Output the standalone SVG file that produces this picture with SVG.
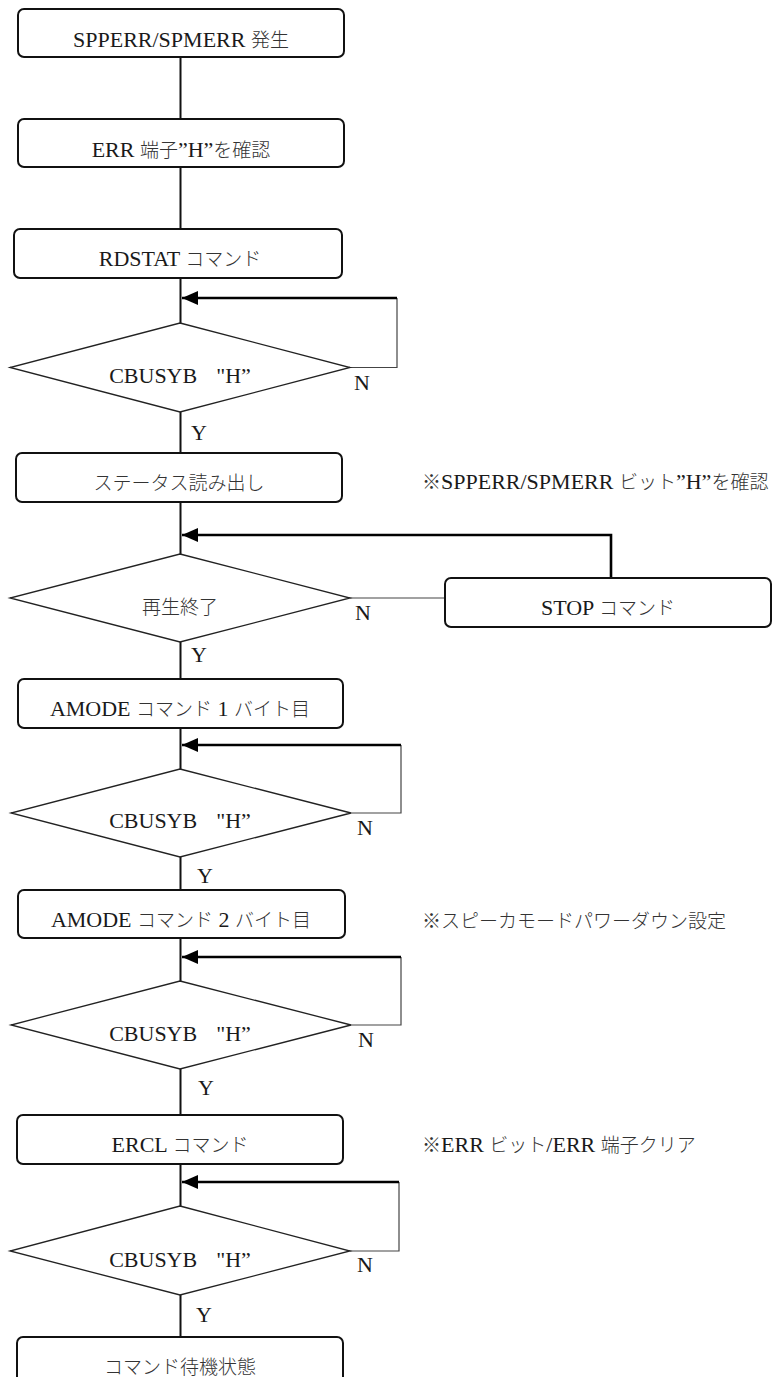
<svg xmlns="http://www.w3.org/2000/svg" width="777" height="1377" viewBox="0 0 777 1377">
<style>
.box{fill:#fff;stroke:#111;stroke-width:2}
.dia{fill:#fff;stroke:#222;stroke-width:1.3}
.t{font-family:"Liberation Serif","Noto Sans CJK JP",serif;font-size:22px;fill:#1a1a1a}
.j{font-family:"Noto Sans CJK JP",sans-serif;font-size:19px;font-weight:300;fill:#333}
.c{text-anchor:middle}
.flow{fill:none;stroke:#111;stroke-width:2}
.back{fill:none;stroke:#444;stroke-width:1.2}
.loop{fill:none;stroke:#000;stroke-width:2.6;marker-end:url(#ah)}
</style>
<defs>
<marker id="ah" markerUnits="userSpaceOnUse" markerWidth="16" markerHeight="14" refX="16" refY="7" orient="auto">
<path d="M0,0 L16,7 L0,14 Z" fill="#000"/>
</marker>
</defs>
<rect width="777" height="1377" fill="#fff"/>
<g id="connectors">
<path class="flow" d="M180.5,57 V119 M180.5,167 V229 M180.5,278 V323 M180.5,412 V453 M180.5,502 V554 M180.5,642 V679 M180.5,728 V769 M180.5,857 V890 M180.5,938 V981 M180.5,1069 V1115 M180.5,1164 V1206 M180.5,1295 V1337"/>
<path class="back" d="M350,367.5 H397 V298"/>
<path class="loop" d="M397,298 H182"/>
<path class="back" d="M350,598 H445"/>
<path class="loop" d="M611,578 V535 H182"/>
<path class="back" d="M351,813 H401 V745"/>
<path class="loop" d="M401,745 H182"/>
<path class="back" d="M351,1025 H401 V957"/>
<path class="loop" d="M401,957 H182"/>
<path class="back" d="M350,1251 H399 V1182"/>
<path class="loop" d="M399,1182 H182"/>
</g>
<g id="n1"><rect class="box" x="18" y="9" width="326" height="48" rx="6"/><text class="t c" x="181" y="47">SPPERR/SPMERR <tspan class="j">発生</tspan></text></g>
<g id="n2"><rect class="box" x="18" y="119" width="326" height="48" rx="6"/><text class="t c" x="181" y="157">ERR <tspan class="j">端子</tspan>”H”<tspan class="j">を確認</tspan></text></g>
<g id="n3"><rect class="box" x="14" y="229" width="328" height="49" rx="6"/><text class="t c" x="180" y="266">RDSTAT <tspan class="j">コマンド</tspan></text></g>
<g id="d1"><polygon class="dia" points="180,323 350,367.5 180,412 10,367.5"/><text class="t c" x="180" y="383">CBUSYB<tspan class="j">　</tspan>"H”</text><text class="t" x="354" y="390">N</text><text class="t" x="191" y="440">Y</text></g>
<g id="n4"><rect class="box" x="16" y="453" width="326" height="49" rx="6"/><text class="t c" x="179" y="490"><tspan class="j">ステータス読み出し</tspan></text></g>
<g id="note1"><text class="t" x="422" y="489"><tspan class="j">※</tspan>SPPERR/SPMERR <tspan class="j">ビット</tspan>”H”<tspan class="j">を確認</tspan></text></g>
<g id="d2"><polygon class="dia" points="180,554 350,598 180,642 10,598"/><text class="t c" x="180" y="614"><tspan class="j">再生終了</tspan></text><text class="t" x="355" y="620">N</text><text class="t" x="191" y="662">Y</text></g>
<g id="stop"><rect class="box" x="445" y="578" width="326" height="49" rx="6"/><text class="t c" x="608" y="615">STOP <tspan class="j">コマンド</tspan></text></g>
<g id="n5"><rect class="box" x="18" y="679" width="325" height="49" rx="6"/><text class="t c" x="180" y="716">AMODE <tspan class="j">コマンド</tspan> 1 <tspan class="j">バイト目</tspan></text></g>
<g id="d3"><polygon class="dia" points="180,769 351,813 180,857 11,813"/><text class="t c" x="180" y="828">CBUSYB<tspan class="j">　</tspan>"H”</text><text class="t" x="357" y="835">N</text><text class="t" x="197" y="883">Y</text></g>
<g id="n6"><rect class="box" x="18" y="890" width="327" height="48" rx="6"/><text class="t c" x="181" y="927">AMODE <tspan class="j">コマンド</tspan> 2 <tspan class="j">バイト目</tspan></text></g>
<g id="note2"><text class="t" x="422" y="928"><tspan class="j">※スピーカモードパワーダウン設定</tspan></text></g>
<g id="d4"><polygon class="dia" points="180,981 351,1025 180,1069 11,1025"/><text class="t c" x="180" y="1041">CBUSYB<tspan class="j">　</tspan>"H”</text><text class="t" x="358" y="1047">N</text><text class="t" x="198" y="1095">Y</text></g>
<g id="n7"><rect class="box" x="17" y="1115" width="326" height="49" rx="6"/><text class="t c" x="180" y="1152">ERCL <tspan class="j">コマンド</tspan></text></g>
<g id="note3"><text class="t" x="422" y="1152"><tspan class="j">※</tspan>ERR <tspan class="j">ビット</tspan>/ERR <tspan class="j">端子クリア</tspan></text></g>
<g id="d5"><polygon class="dia" points="180,1206 350,1251 180,1295 10,1251"/><text class="t c" x="180" y="1267">CBUSYB<tspan class="j">　</tspan>"H”</text><text class="t" x="357" y="1272">N</text><text class="t" x="196" y="1322">Y</text></g>
<g id="n8"><rect class="box" x="17" y="1337" width="326" height="49" rx="6"/><text class="t c" x="180" y="1374"><tspan class="j">コマンド待機状態</tspan></text></g>
</svg>
